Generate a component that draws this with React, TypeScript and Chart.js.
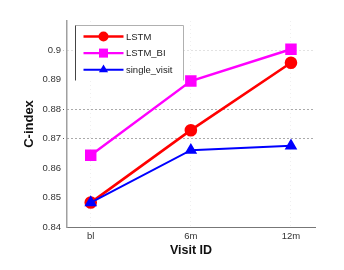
import React, { useEffect, useRef } from "react";
import { Chart, registerables } from "chart.js";

Chart.register(...registerables);

const categories = ["bl", "6m", "12m"];
const seriesNames = ["LSTM", "LSTM_BI", "single_visit"];
const lstm = [0.8483, 0.8729, 0.8958];
const lstmBi = [0.8644, 0.8896, 0.9004];
const singleVisit = [0.8483, 0.8661, 0.8676];
const yTicks = [0.84, 0.85, 0.86, 0.87, 0.88, 0.89, 0.9];
const yTitle = "C-index";
const xTitle = "Visit ID";

const FONT = "'Liberation Sans', Arial, sans-serif";

const boxLegend = {
  id: "boxLegend",
  afterDraw(chart: any) {
    const ctx = chart.ctx as CanvasRenderingContext2D;
    const { left, top } = chart.chartArea;
    const x0 = left + 8.5;
    const y0 = top + 4.5;
    const w = 108;
    const h = 55;
    ctx.save();
    ctx.fillStyle = "#ffffff";
    ctx.fillRect(x0, y0, w, h);
    ctx.lineWidth = 1;
    ctx.strokeStyle = "#b0b0b0";
    ctx.beginPath();
    ctx.moveTo(x0, y0);
    ctx.lineTo(x0 + w, y0);
    ctx.lineTo(x0 + w, y0 + h);
    ctx.stroke();
    ctx.strokeStyle = "#444";
    ctx.beginPath();
    ctx.moveTo(x0, y0);
    ctx.lineTo(x0, y0 + h);
    ctx.stroke();
    chart.data.datasets.forEach((ds: any, i: number) => {
      const y = y0 + 11 + i * 16.6;
      const lx1 = x0 + 8;
      const lx2 = x0 + 48;
      const mx = (lx1 + lx2) / 2;
      ctx.strokeStyle = ds.borderColor;
      ctx.lineWidth = ds.borderWidth;
      ctx.beginPath();
      ctx.moveTo(lx1, y);
      ctx.lineTo(lx2, y);
      ctx.stroke();
      ctx.fillStyle = ds.pointBackgroundColor;
      const r = ds.pointRadius;
      ctx.beginPath();
      if (ds.pointStyle === "circle") {
        ctx.arc(mx, y, r, 0, Math.PI * 2);
      } else if (ds.pointStyle === "rect") {
        const s = r * Math.SQRT1_2;
        ctx.rect(mx - s, y - s, 2 * s, 2 * s);
      } else {
        for (let k = 0; k < 3; k++) {
          const a = -Math.PI / 2 + (k * 2 * Math.PI) / 3;
          const px = mx + Math.cos(a) * r;
          const py = y + Math.sin(a) * r;
          if (k === 0) ctx.moveTo(px, py);
          else ctx.lineTo(px, py);
        }
        ctx.closePath();
      }
      ctx.fill();
      ctx.fillStyle = "#222";
      ctx.font = `9.5px ${FONT}`;
      ctx.textBaseline = "middle";
      ctx.textAlign = "left";
      ctx.fillText(ds.label, x0 + 50.5, y + 0.5);
    });
    ctx.restore();
  },
};

function gridColorFor(v: number) {
  if (Math.abs(v - 0.9) < 1e-6) return "#c4c4c4";
  if (Math.abs(v - 0.88) < 1e-6 || Math.abs(v - 0.87) < 1e-6) return "#555555";
  return "rgba(0,0,0,0)";
}

export default function App() {
  const ref = useRef<HTMLCanvasElement | null>(null);
  useEffect(() => {
    if (!ref.current) return;
    const toPts = (arr: number[]) => arr.map((v, i) => ({ x: i, y: v }));
    const chart = new Chart(ref.current, {
      type: "line",
      data: {
        datasets: [
          {
            label: seriesNames[0],
            data: toPts(lstm),
            borderColor: "#ff0000",
            backgroundColor: "#ff0000",
            pointBackgroundColor: "#ff0000",
            pointBorderColor: "#ff0000",
            borderWidth: 2.6,
            pointStyle: "circle",
            pointRadius: 5,
            order: 3,
          },
          {
            label: seriesNames[1],
            data: toPts(lstmBi),
            borderColor: "#ff00ff",
            backgroundColor: "#ff00ff",
            pointBackgroundColor: "#ff00ff",
            pointBorderColor: "#ff00ff",
            borderWidth: 2.4,
            pointStyle: "rect",
            pointRadius: 6.4,
            order: 2,
          },
          {
            label: seriesNames[2],
            data: toPts(singleVisit),
            borderColor: "#0000ff",
            backgroundColor: "#0000ff",
            pointBackgroundColor: "#0000ff",
            pointBorderColor: "#0000ff",
            borderWidth: 2,
            pointStyle: "triangle",
            pointRadius: 5.3,
            order: 1,
          },
        ] as any,
      },
      options: {
        responsive: false,
        animation: false,
        devicePixelRatio: 1,
        layout: { padding: { left: 0, right: 29, top: 21, bottom: 0 } },
        plugins: { legend: { display: false }, tooltip: { enabled: false } },
        elements: { line: { tension: 0 }, point: { borderWidth: 0 } },
        scales: {
          x: {
            type: "linear",
            min: -0.237,
            max: 2.24,
            afterBuildTicks: (s: any) => {
              s.ticks = categories.map((_, i) => ({ value: i }));
            },
            afterFit: (s: any) => {
              s.height = 43;
            },
            ticks: {
              callback: (v: any) => categories[Math.round(Number(v))] ?? "",
              font: { size: 9.5, family: FONT },
              color: "#333",
              padding: 1,
              maxRotation: 0,
              autoSkip: false,
            },
            grid: {
              color: "#efefef",
              tickLength: 3,
              tickColor: "rgba(0,0,0,0)",
            } as any,
            border: { color: "#777", width: 1, dash: [1, 3] },
            title: {
              display: true,
              text: xTitle,
              font: { size: 12.5, weight: "bold", family: FONT },
              color: "#111",
              padding: { top: 0, bottom: 12 },
            },
          },
          y: {
            type: "linear",
            min: 0.84,
            max: 0.91,
            afterBuildTicks: (s: any) => {
              s.ticks = yTicks.map((v) => ({ value: v }));
            },
            afterFit: (s: any) => {
              s.width = 67;
            },
            ticks: {
              callback: (v: any) => String(Number(Number(v).toFixed(2))),
              font: { size: 9.5, family: FONT },
              color: "#333",
              padding: 2,
              autoSkip: false,
            },
            grid: {
              color: (c: any) => gridColorFor(c.tick ? c.tick.value : 0),
              tickColor: (c: any) => gridColorFor(c.tick ? c.tick.value : 0),
              tickBorderDash: [1, 2],
              tickLength: 4,
            } as any,
            border: { color: "#a0a0a0", width: 1.5, dash: [1, 3] },
            title: {
              display: true,
              text: yTitle,
              font: { size: 13, weight: "bold", family: FONT },
              color: "#111",
              padding: { top: 21.7, bottom: 0 },
            },
          },
        },
      } as any,
      plugins: [boxLegend],
    });
    return () => chart.destroy();
  }, []);
  return (
    <div
      style={{
        position: "fixed",
        left: 0,
        top: 0,
        width: 344,
        height: 270,
        background: "#fff",
      }}
    >
      <canvas ref={ref} width={344} height={270} style={{ display: "block" }} />
    </div>
  );
}
